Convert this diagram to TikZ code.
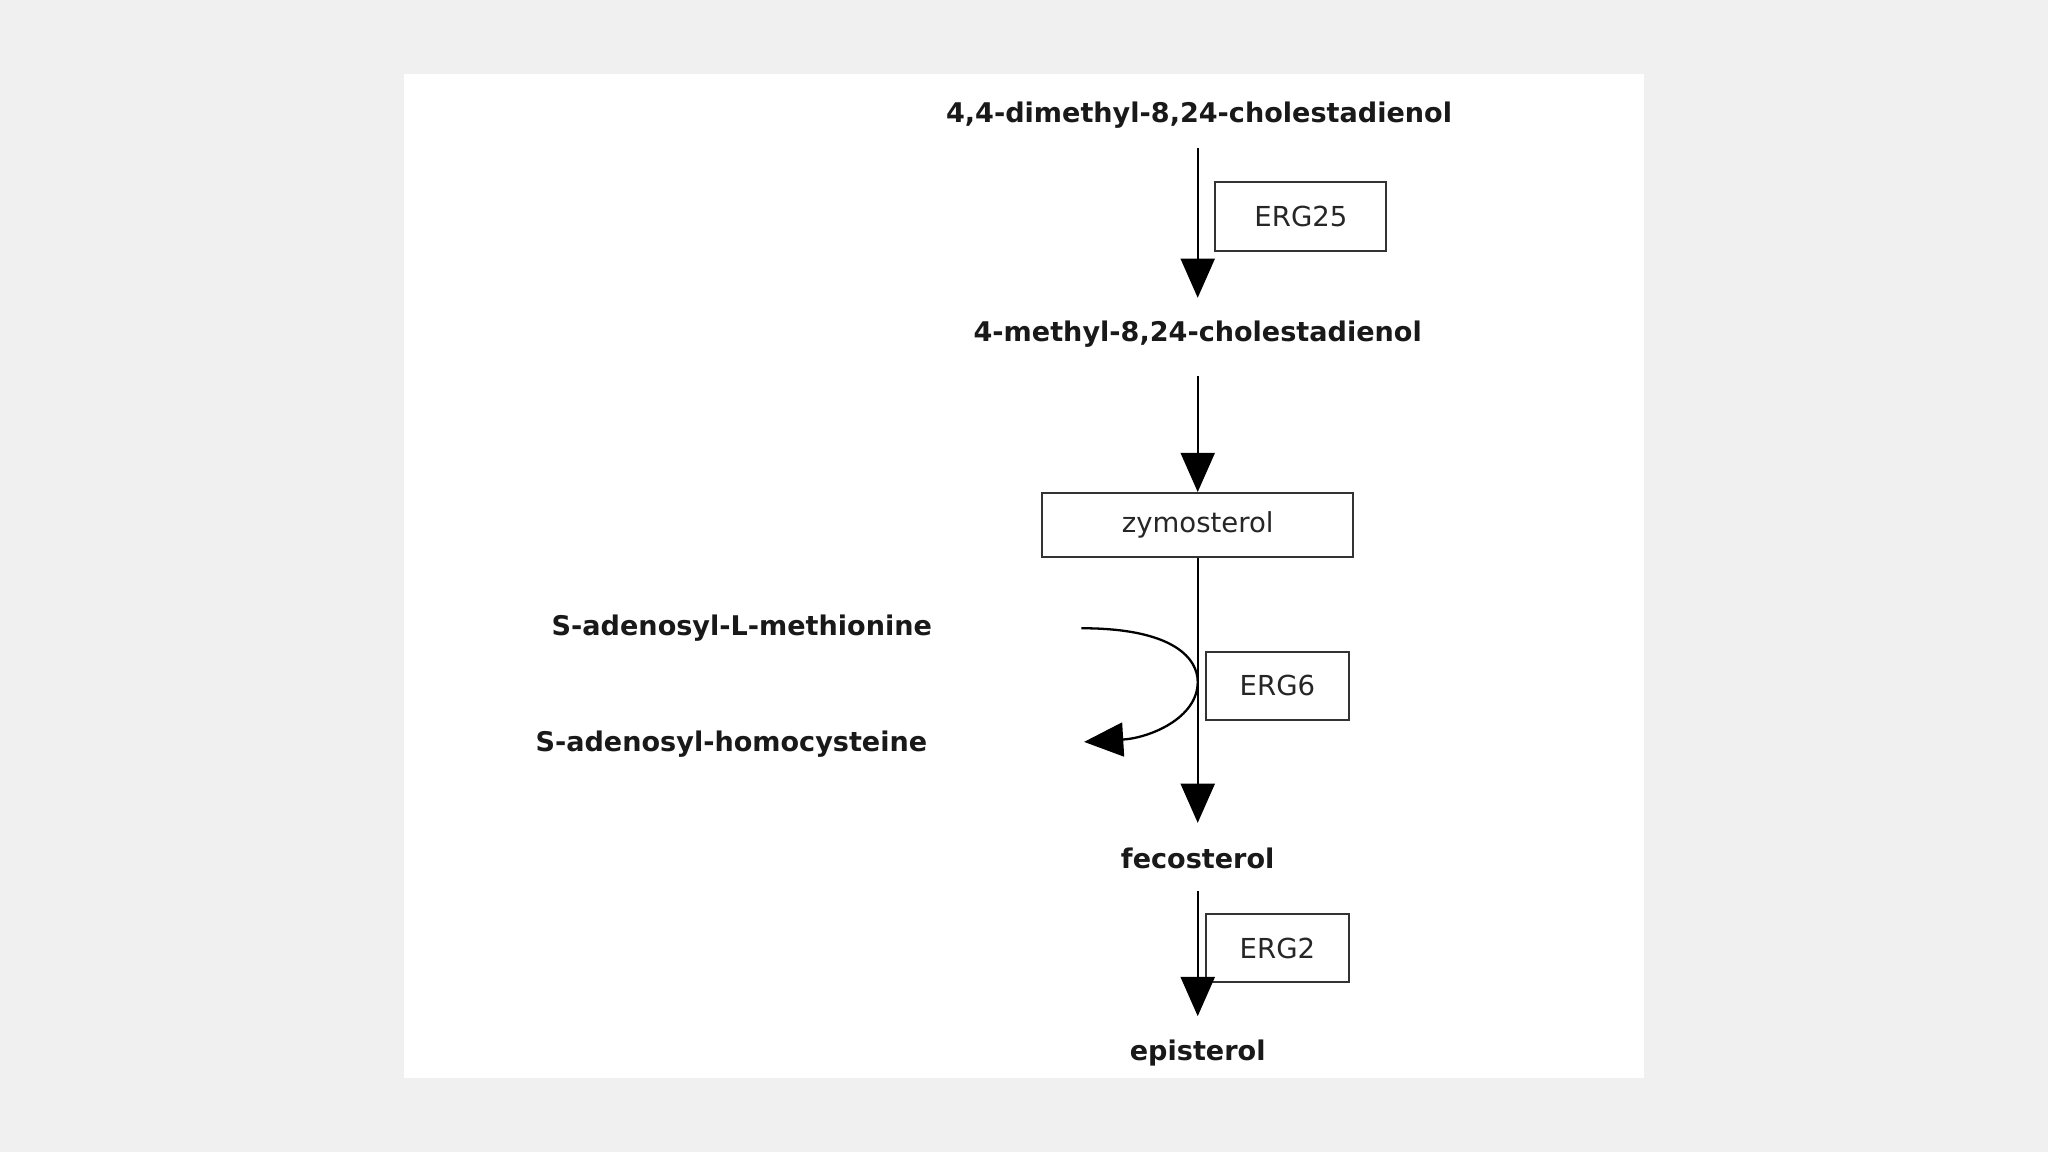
\documentclass[tikz,border=0pt]{standalone}
\usepackage{fontspec}
\setmainfont{DejaVu Sans}
\usetikzlibrary{arrows.meta}
\begin{document}
\begin{tikzpicture}[x={(0.02cm,0)},y={(0,-0.02cm)},
  met/.style={font=\fontsize{11.8}{13}\selectfont\bfseries, text=black!90},
  enz/.style={draw=black!80, line width=0.9pt, font=\fontsize{12}{13}\selectfont, text=black!85, minimum width=#1},
  rx/.style={line width=1pt, -{Triangle[width=0.52cm,length=0.6cm]}}]
\fill[black!6] (0,0) rectangle (1568,882);
\fill[white] (309,57) rectangle (1259,825);
\node[met] (t1) at (918,88) {4,4-dimethyl-8,24-cholestadienol};
\node[enz=2.62cm, minimum height=1.06cm] (e25) at (996,166) {ERG25};
\node[met] (t2) at (917,256) {4-methyl-8,24-cholestadienol};
\node[enz=4.76cm, minimum height=0.98cm] (zy) at (917,402) {zymosterol};
\node[met] (sam) at (568,481) {S-adenosyl-L-methionine};
\node[met] (sah) at (560,570) {S-adenosyl-homocysteine};
\node[enz=2.18cm, minimum height=1.04cm] (e6) at (978,525) {ERG6};
\node[met] (fe) at (917,657) {fecosterol};
\node[enz=2.18cm, minimum height=1.04cm] (e2) at (978,726) {ERG2};
\node[met] (ep) at (917,806) {episterol};
\draw[rx] (917,113) -- (917,228);
\draw[rx] (917,288) -- (zy.north);
\draw[rx] (zy.south) -- (917,630);
\draw[rx] (917,682) -- (917,778);
\coordinate (c1) at (828,481);
\coordinate (c2) at (830,568);
\draw[rx] (c1) .. controls (900,481) and (917,505) .. (917,522) .. controls (917,550) and (880,565) .. (c2);
\end{tikzpicture}
\end{document}
